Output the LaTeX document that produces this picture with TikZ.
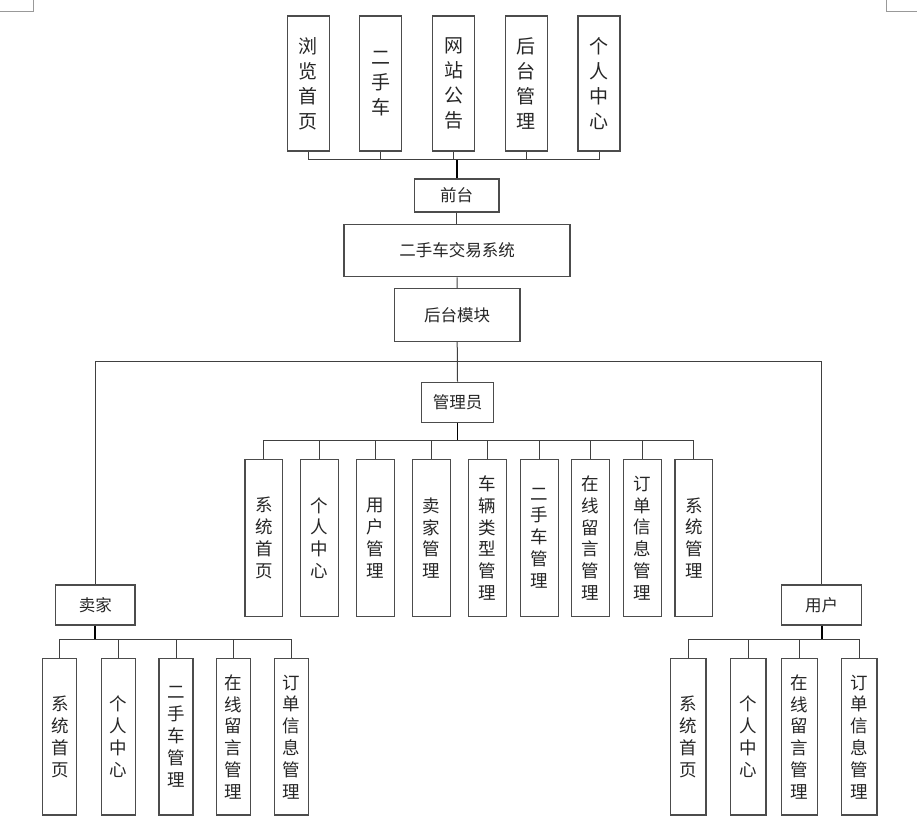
\documentclass[tikz,border=0pt]{standalone}
\usepackage{fontspec}
\setmainfont{Noto Sans CJK SC}
\begin{document}
\begin{tikzpicture}[x=1pt,y=-1pt,
  box/.style={draw=black!70, line width=1.2pt, fill=white, inner sep=0pt, align=center, text=black!85},
  hbox/.style={box, font=\fontsize{16.5}{18}\selectfont},
  vtop/.style={box, minimum width=42pt, minimum height=135pt, font=\fontsize{19}{25}\selectfont},
  vadm/.style={box, minimum width=37.7pt, minimum height=157.4pt, font=\fontsize{17.5}{21.8}\selectfont},
  vsel/.style={box, minimum width=34pt, minimum height=156.3pt, font=\fontsize{17.5}{21.8}\selectfont},
  vusr/.style={box, minimum width=35.5pt, minimum height=156.3pt, font=\fontsize{17.5}{21.8}\selectfont},
  conn/.style={draw=black!75, line width=1pt},
  trunk/.style={draw=black, line width=1.9pt},
  cornermark/.style={draw=black!40, line width=0.9pt}]
\useasboundingbox (0,0) rectangle (917,821);
% page corner marks
\draw[cornermark] (33,0) -- (33,11) -- (0,11);
\draw[cornermark] (886,0) -- (886,11) -- (917,11);

% coordinates for buses
\coordinate (topbus) at (0,160);
\coordinate (bigbus) at (0,361);
\coordinate (admbus) at (0,440.3);
\coordinate (lowbus) at (0,639.3);

% top row
\node[vtop] (t1) at (308.3,83.5) {浏\\览\\首\\页};
\node[vtop] (t2) at (380.8,83.5) {二\\手\\车};
\node[vtop] (t3) at (453.5,83.5) {网\\站\\公\\告};
\node[vtop] (t4) at (526.2,83.5) {后\\台\\管\\理};
\node[vtop] (t5) at (599,83.5) {个\\人\\中\\心};

\node[hbox, minimum width=84.7pt, minimum height=33pt] (qt) at (456.7,195.5) {前台};
\node[hbox, minimum width=226pt, minimum height=52.4pt] (sys) at (457,250.5) {二手车交易系统};
\node[hbox, minimum width=125.7pt, minimum height=52.3pt] (ht) at (457.2,315) {后台模块};
\node[hbox, minimum width=71.6pt, minimum height=40pt] (adm) at (457.5,402.3) {管理员};
\node[hbox, minimum width=79.3pt, minimum height=40pt] (sel) at (95.3,605) {卖家};
\node[hbox, minimum width=80pt, minimum height=40pt] (usr) at (821.7,605) {用户};

% admin children
\node[vadm] (a1) at (263.8,538) {系\\统\\首\\页};
\node[vadm] (a2) at (319.5,538) {个\\人\\中\\心};
\node[vadm] (a3) at (375.5,538) {用\\户\\管\\理};
\node[vadm] (a4) at (431.5,538) {卖\\家\\管\\理};
\node[vadm] (a5) at (487.5,538) {车\\辆\\类\\型\\管\\理};
\node[vadm] (a6) at (539.3,538) {二\\手\\车\\管\\理};
\node[vadm] (a7) at (590.7,538) {在\\线\\留\\言\\管\\理};
\node[vadm] (a8) at (642.3,538) {订\\单\\信\\息\\管\\理};
\node[vadm] (a9) at (693.8,538) {系\\统\\管\\理};

% seller children
\node[vsel] (s1) at (59.8,736.8) {系\\统\\首\\页};
\node[vsel] (s2) at (118.3,736.8) {个\\人\\中\\心};
\node[vsel] (s3) at (176,736.8) {二\\手\\车\\管\\理};
\node[vsel] (s4) at (233.7,736.8) {在\\线\\留\\言\\管\\理};
\node[vsel] (s5) at (291.3,736.8) {订\\单\\信\\息\\管\\理};

% user children
\node[vusr] (u1) at (688.2,736.8) {系\\统\\首\\页};
\node[vusr] (u2) at (748.2,736.8) {个\\人\\中\\心};
\node[vusr] (u3) at (799.5,736.8) {在\\线\\留\\言\\管\\理};
\node[vusr] (u4) at (859.3,736.8) {订\\单\\信\\息\\管\\理};

% top connectors
\foreach \n in {t1,t2,t3,t4,t5} \draw[conn] (\n.south) -- (\n.south |- topbus);
\draw[conn] (t1.south |- topbus) -- (t5.south |- topbus);
\draw[trunk] (qt.north) -- (qt.north |- topbus);
\draw[conn] (qt.south) -- (sys.north -| qt.south);
\draw[conn] (sys.south) -- (ht.north);

% big bus
\draw[conn] (ht.south) -- (adm.north);
\draw[conn] (sel.north |- bigbus) -- (usr.north |- bigbus);
\draw[conn] (sel.north |- bigbus) -- (sel.north);
\draw[conn] (usr.north |- bigbus) -- (usr.north);

% admin bus
\draw[trunk] (adm.south) -- (adm.south |- admbus);
\draw[conn] (a1.north |- admbus) -- (a9.north |- admbus);
\foreach \n in {a1,a2,a3,a4,a5,a6,a7,a8,a9} \draw[conn] (\n.north |- admbus) -- (\n.north);

% seller bus
\draw[trunk] (sel.south) -- (sel.south |- lowbus);
\draw[conn] (s1.north |- lowbus) -- (s5.north |- lowbus);
\foreach \n in {s1,s2,s3,s4,s5} \draw[conn] (\n.north |- lowbus) -- (\n.north);

% user bus
\draw[trunk] (usr.south) -- (usr.south |- lowbus);
\draw[conn] (u1.north |- lowbus) -- (u4.north |- lowbus);
\foreach \n in {u1,u2,u3,u4} \draw[conn] (\n.north |- lowbus) -- (\n.north);
\end{tikzpicture}
\end{document}
